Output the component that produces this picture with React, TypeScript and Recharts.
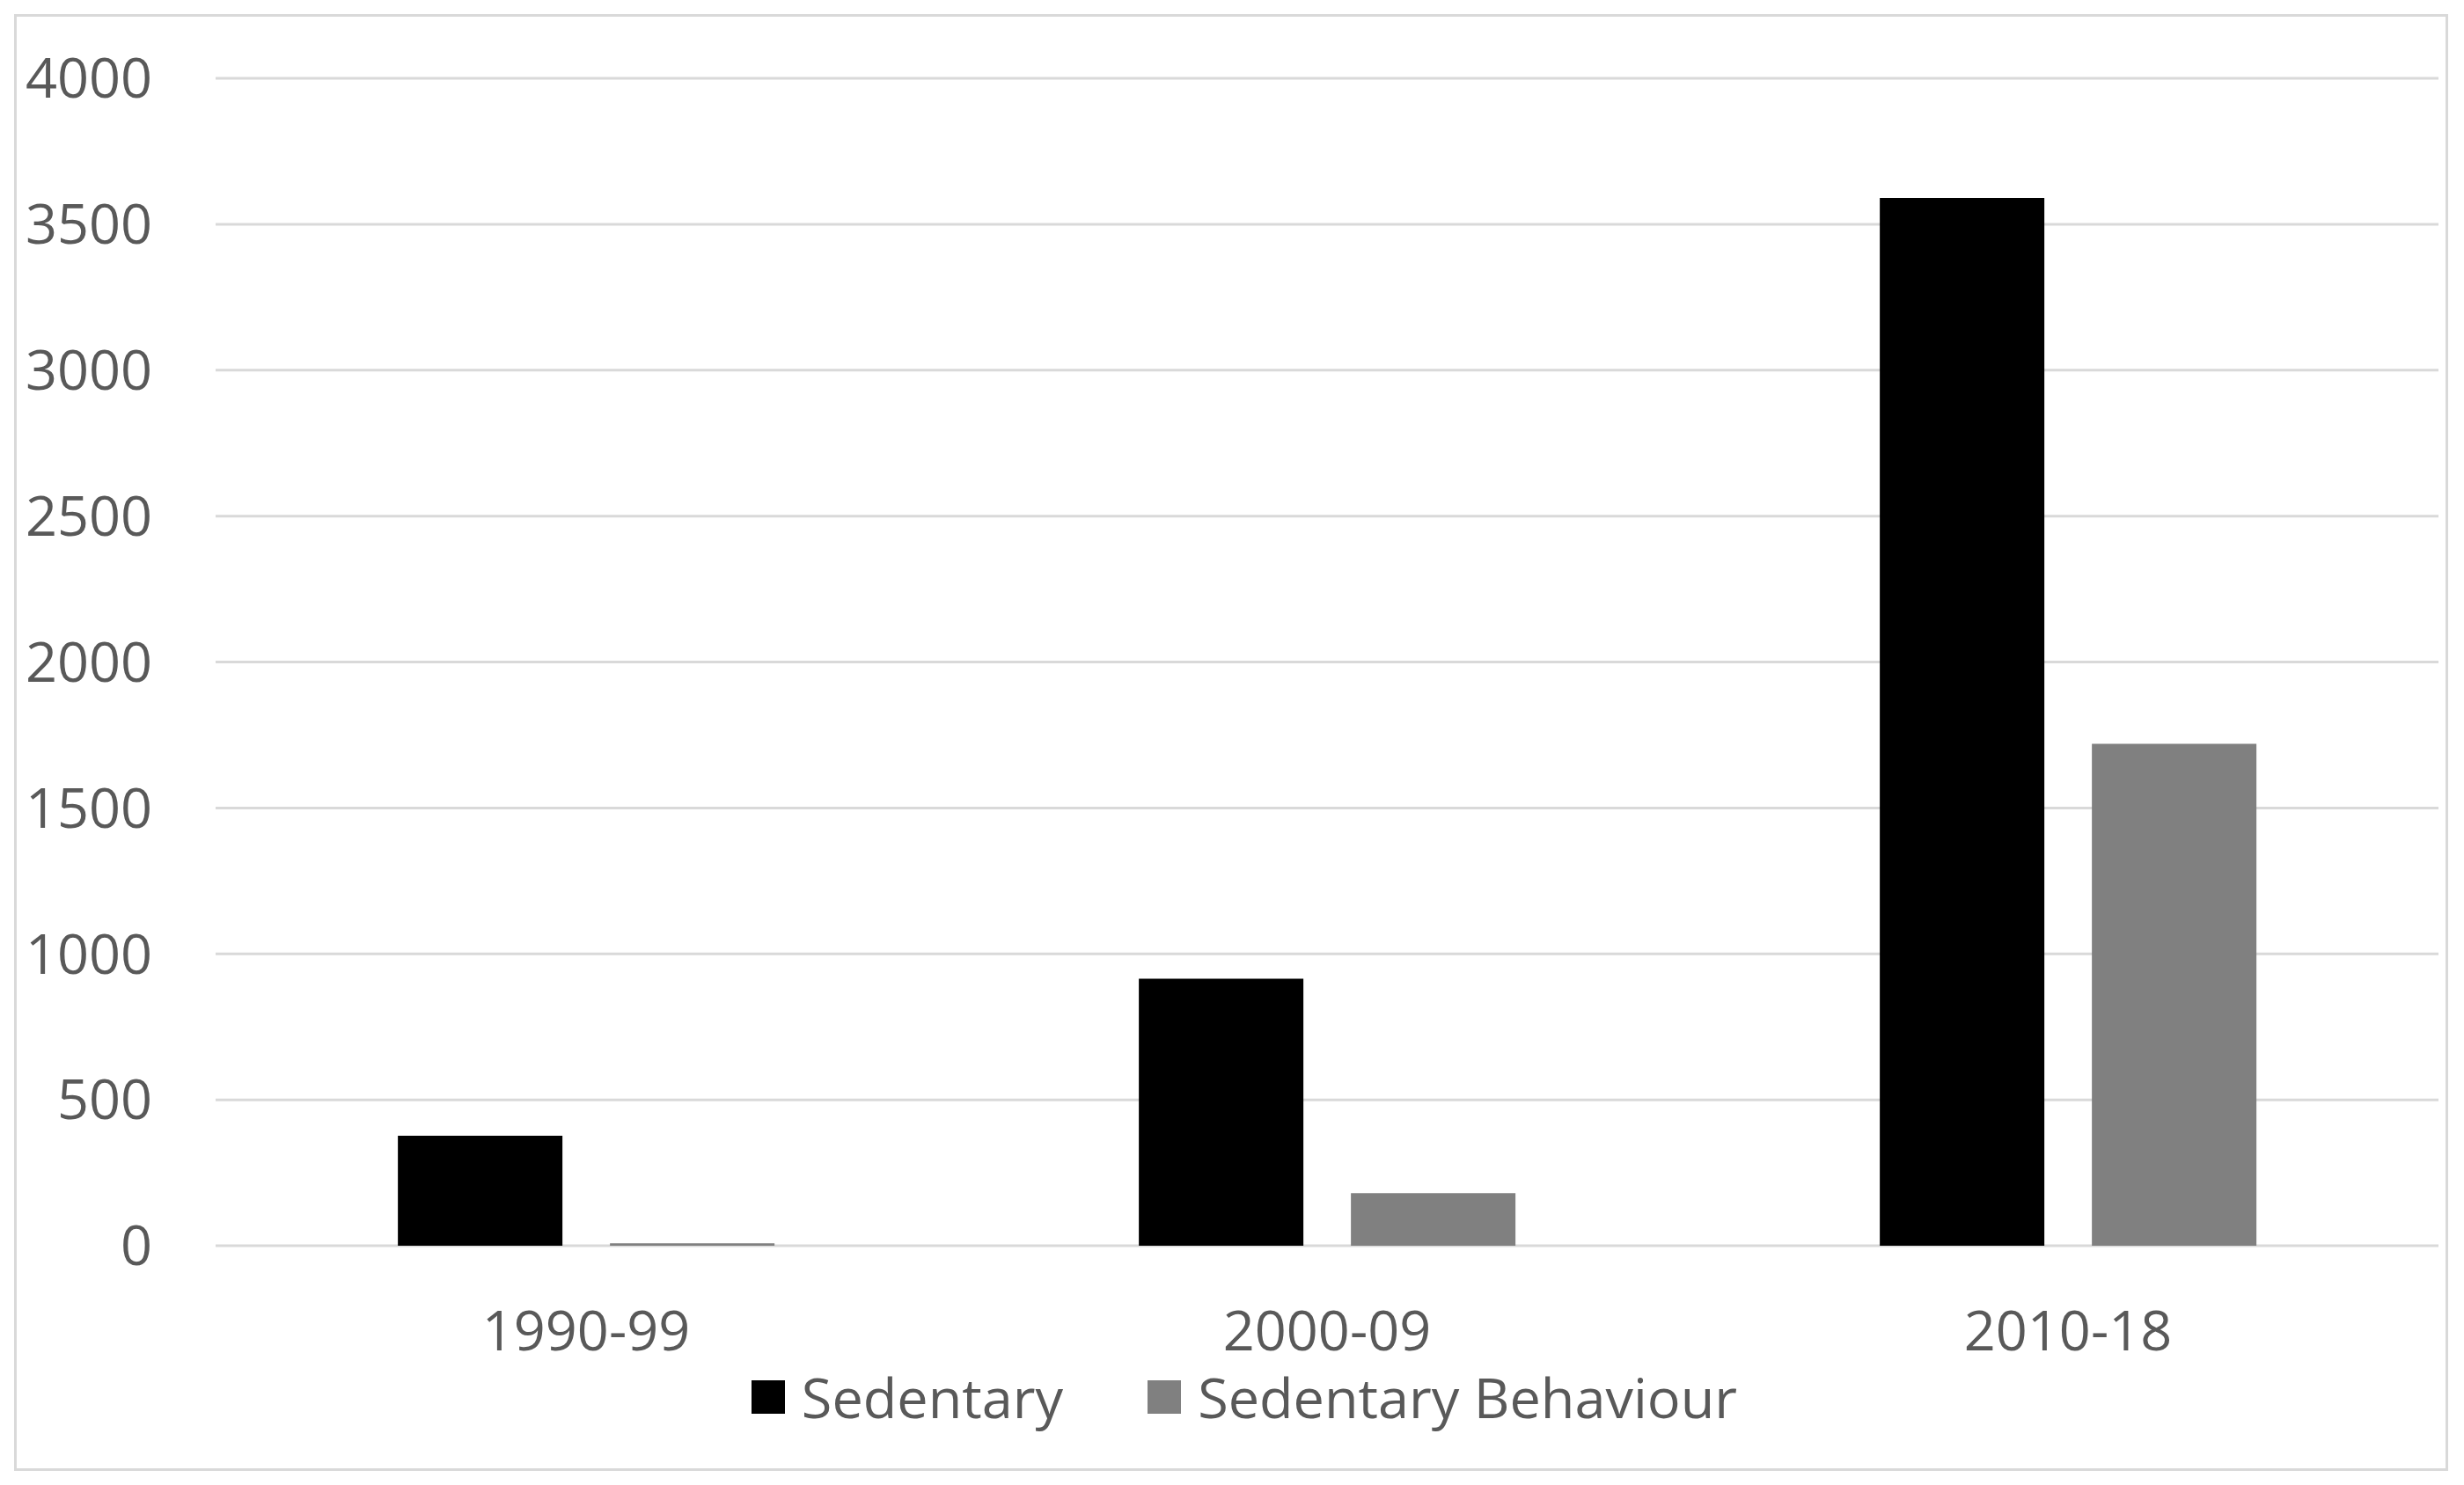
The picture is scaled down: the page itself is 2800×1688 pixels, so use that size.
import { BarChart, Bar, XAxis, YAxis, CartesianGrid, Legend } from 'recharts';

const PERIODS = ['1990-99', '2000-09', '2010-18'];
const SEDENTARY = [377, 915, 3590];
const SEDENTARY_BEHAVIOUR = [8, 180, 1720];
const Y_TICKS = [0, 500, 1000, 1500, 2000, 2500, 3000, 3500, 4000];

const SERIES = [
  { key: 'sedentary', name: 'Sedentary', color: '#000000' },
  { key: 'behaviour', name: 'Sedentary Behaviour', color: '#808080' },
];

const data = PERIODS.map((period, i) => ({
  period,
  sedentary: SEDENTARY[i],
  behaviour: SEDENTARY_BEHAVIOUR[i],
}));

const FONT = '"Open Sans", sans-serif';
const TEXT = '#595959';
const GRID = '#d9d9d9';

function LegendContent() {
  return (
    <div style={{ display: 'flex', justifyContent: 'center', alignItems: 'center', fontFamily: FONT, fontSize: 63, color: TEXT, lineHeight: '56px' }}>
      {SERIES.map((s, i) => (
        <div key={s.key} style={{ display: 'flex', alignItems: 'center', marginLeft: i === 0 ? 0 : 96 }}>
          <span style={{ display: 'inline-block', width: 38, height: 38, background: s.color, marginRight: 19 }} />
          <span>{s.name}</span>
        </div>
      ))}
    </div>
  );
}

export default function App() {
  return (
    <div style={{ position: 'absolute', left: 0, top: 0, width: 2800, height: 1688, background: '#fff' }}>
      <div style={{ position: 'absolute', left: 16, top: 16, width: 2760, height: 1650, border: `3px solid ${GRID}` }} />
      <BarChart
        width={2800}
        height={1688}
        data={data}
        margin={{ top: 89, right: 29, bottom: 0, left: 0 }}
        barCategoryGap="24.6%"
        barGap={54}
      >
        <CartesianGrid horizontal vertical={false} stroke={GRID} strokeWidth={3} />
        <XAxis
          dataKey="period"
          axisLine={false}
          tickLine={false}
          tickSize={0}
          tickMargin={74}
          height={272}
          tick={{ fontSize: 63, fill: TEXT, fontFamily: FONT }}
        />
        <YAxis
          domain={[0, 4000]}
          ticks={Y_TICKS}
          axisLine={false}
          tickLine={false}
          tickSize={0}
          tickMargin={72}
          width={245}
          tick={{ fontSize: 63, fill: TEXT, fontFamily: FONT }}
        />
        <Legend
          layout="horizontal"
          align="center"
          verticalAlign="middle"
          wrapperStyle={{ top: 1560, left: 14, width: 2800 }}
          content={LegendContent}
        />
        {SERIES.map((s) => (
          <Bar key={s.key} dataKey={s.key} name={s.name} fill={s.color} isAnimationActive={false} />
        ))}
      </BarChart>
    </div>
  );
}
